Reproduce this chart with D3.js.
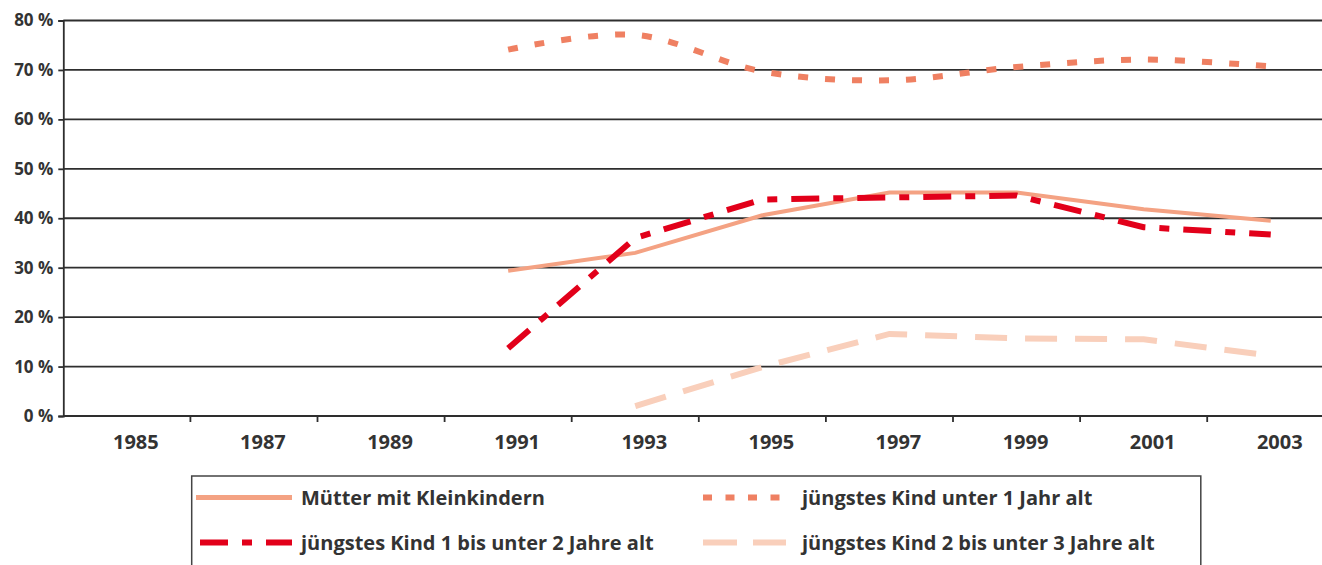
<!DOCTYPE html>
<html>
<head>
<meta charset="utf-8">
<script src="https://cdn.jsdelivr.net/npm/d3@7"></script>
<style>
  html, body { margin: 0; padding: 0; background: #fff; }
  svg { display: block; }
</style>
</head>
<body>
<svg id="chart" width="1322" height="565"></svg>
<script>
// Data
const years = ["1985", "1987", "1989", "1991", "1993", "1995", "1997", "1999", "2001", "2003"];
const dataYears = ["1991", "1993", "1995", "1997", "1999", "2001", "2003"];
const muetter = [29.4, 33.0, 40.6, 45.2, 45.2, 41.8, 39.5];
const unter1 = [74.1, 77.1, 69.7, 67.9, 70.6, 72.1, 70.7];
const kind1bis2 = [13.7, 36.0, 43.8, 44.2, 44.6, 38.2, 36.7];
const kind2bis3 = [null, 2.0, 9.9, 16.6, 15.7, 15.5, 12.2];
const yTicks = [0, 10, 20, 30, 40, 50, 60, 70, 80];

const width = 1322;
const height = 565;
const fontFamily = "'Open Sans', 'Noto Sans', sans-serif";
const textColor = "#333";
const gridColor = "#2e2e2e";

const svg = d3.select("#chart");

// Scales
const x = d3.scaleBand()
  .domain(years)
  .range([63.3, 63.3 + 10 * 127.1]);

const y = d3.scaleLinear()
  .domain([0, 80])
  .range([416, 20.5]);

const cx = d => x(d) + x.bandwidth() / 2;

// Gridlines
svg.append("g")
  .selectAll("line")
  .data(yTicks.slice(1))
  .join("line")
  .attr("x1", 63.3)
  .attr("x2", width)
  .attr("y1", d => y(d))
  .attr("y2", d => y(d))
  .attr("stroke", gridColor)
  .attr("stroke-width", 1.8);

// Y axis
const yAxis = svg.append("g")
  .attr("transform", "translate(63.3,0)")
  .call(d3.axisLeft(y).tickValues(yTicks).tickSize(5).tickPadding(5).tickFormat(d => d + " %"));

yAxis.select(".domain").attr("stroke", gridColor).attr("stroke-width", 1.8);
yAxis.selectAll(".tick line").attr("stroke", gridColor).attr("stroke-width", 1.8);
yAxis.selectAll(".tick text")
  .attr("fill", textColor)
  .style("font-family", fontFamily)
  .style("font-weight", 700)
  .style("font-size", "17px");

// X axis
svg.append("line")
  .attr("x1", 63.3)
  .attr("x2", width)
  .attr("y1", y(0))
  .attr("y2", y(0))
  .attr("stroke", gridColor)
  .attr("stroke-width", 1.8);

svg.append("g")
  .selectAll("line")
  .data(years.slice(0, -1))
  .join("line")
  .attr("x1", d => x(d) + x.bandwidth())
  .attr("x2", d => x(d) + x.bandwidth())
  .attr("y1", y(0))
  .attr("y2", y(0) + 6)
  .attr("stroke", gridColor)
  .attr("stroke-width", 1.8);

svg.append("g")
  .selectAll("text")
  .data(years)
  .join("text")
  .attr("x", d => cx(d) + 9)
  .attr("y", 449)
  .attr("text-anchor", "middle")
  .attr("fill", textColor)
  .style("font-family", fontFamily)
  .style("font-weight", 700)
  .style("font-size", "20px")
  .text(d => d);

// Series
const series = [
  { name: "Mütter mit Kleinkindern", values: muetter, color: "#F4A283", width: 4, dash: null, legendDash: null, curve: d3.curveLinear },
  { name: "jüngstes Kind unter 1 Jahr alt", values: unter1, color: "#EF8062", width: 6, dash: "10,17", legendDash: "9,13.5", curve: d3.curveCatmullRom },
  { name: "jüngstes Kind 1 bis unter 2 Jahre alt", values: kind1bis2, color: "#E2001A", width: 6, dash: "28,14,10,14", legendDash: "28,14,10,14", curve: d3.curveLinear },
  { name: "jüngstes Kind 2 bis unter 3 Jahre alt", values: kind2bis3, color: "#F9CFBB", width: 6, dash: "32,18", legendDash: "34,16", curve: d3.curveLinear }
];

const drawOrder = [3, 0, 2, 1];
drawOrder.forEach(i => {
  const s = series[i];
  const pts = dataYears.map((yr, j) => ({ yr, v: s.values[j] })).filter(p => p.v != null);
  const line = d3.line()
    .x(p => cx(p.yr))
    .y(p => y(p.v))
    .curve(s.curve);
  svg.append("path")
    .datum(pts)
    .attr("d", line)
    .attr("fill", "none")
    .attr("stroke", s.color)
    .attr("stroke-width", s.width)
    .attr("stroke-dasharray", s.dash);
});

// Legend
const legend = svg.append("g");
legend.append("rect")
  .attr("x", 191.7)
  .attr("y", 476)
  .attr("width", 1200.8 - 191.7)
  .attr("height", 120)
  .attr("fill", "none")
  .attr("stroke", "#444")
  .attr("stroke-width", 1.5);

const legendPos = [
  { x1: 196, x2: 292, tx: 301, y: 497.5 },
  { x1: 703, x2: 786, tx: 802, y: 497.5 },
  { x1: 200, x2: 292, tx: 301, y: 542.5 },
  { x1: 703, x2: 786, tx: 802, y: 542.5 }
];

series.forEach((s, i) => {
  const p = legendPos[i];
  legend.append("line")
    .attr("x1", p.x1)
    .attr("x2", p.x2)
    .attr("y1", p.y)
    .attr("y2", p.y)
    .attr("stroke", s.color)
    .attr("stroke-width", s.width === 4 ? 5 : 6)
    .attr("stroke-dasharray", s.legendDash);
  legend.append("text")
    .attr("x", p.tx)
    .attr("y", p.y + 7.5)
    .attr("fill", textColor)
    .style("font-family", fontFamily)
    .style("font-weight", 700)
    .style("font-size", "20px")
    .text(s.name);
});
</script>
</body>
</html>
